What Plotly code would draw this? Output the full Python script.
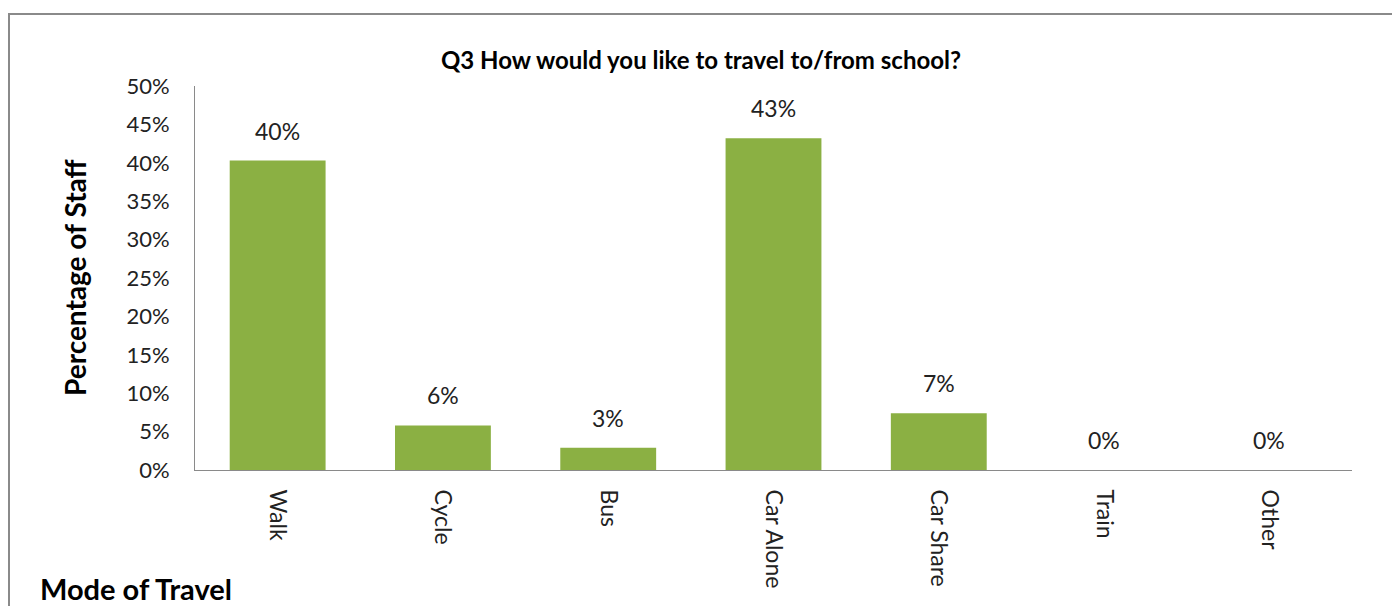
import plotly.graph_objects as go

categories = ["Walk", "Cycle", "Bus", "Car Alone", "Car Share", "Train", "Other"]
values = [0.403, 0.058, 0.029, 0.432, 0.074, 0.0, 0.0]
y_ticks = [0, 0.05, 0.10, 0.15, 0.20, 0.25, 0.30, 0.35, 0.40, 0.45, 0.50]

FONT = "Lato"
W, H = 1392, 606
L, R, T, B = 195, 40, 86, 136
pw, ph = W - L - R, H - T - B

fig = go.Figure()
fig.add_trace(go.Bar(
    x=categories, y=values,
    marker=dict(color="#8BB043", line=dict(width=0)),
    hoverinfo="x+y",
))

for c, v in zip(categories, values):
    fig.add_annotation(x=c, y=v, text=f"{v*100:.0f}%", showarrow=False,
                       yanchor="bottom", yshift=14,
                       font=dict(family=FONT, size=23, color="#222"))

def px_x(p):
    return (p - L) / pw

def px_y(p):
    return (H - B - p) / ph

fig.add_annotation(xref="paper", yref="paper", x=px_x(75), y=px_y(278),
                   xanchor="center", yanchor="middle",
                   text="<b>Percentage of Staff</b>", textangle=-90, showarrow=False,
                   font=dict(family=FONT, size=28, color="#000"))
fig.add_annotation(xref="paper", yref="paper", x=px_x(38), y=px_y(588),
                   xanchor="left", yanchor="middle",
                   text="<b>Mode of Travel</b>", showarrow=False,
                   font=dict(family=FONT, size=29, color="#000"))

fig.add_shape(type="rect", xref="paper", yref="paper",
              x0=px_x(9), y0=px_y(700), x1=px_x(1500), y1=px_y(14),
              line=dict(color="#8a8a8a", width=2), fillcolor="rgba(0,0,0,0)")

fig.update_layout(
    width=W, height=H,
    margin=dict(l=L, r=R, t=T, b=B),
    paper_bgcolor="white", plot_bgcolor="white",
    showlegend=False,
    bargap=0.42,
    title=dict(text="<b>Q3 How would you like to travel to/from school?</b>",
               x=701 / W, xanchor="center", y=1 - 61 / H, yanchor="middle",
               xref="container", yref="container",
               font=dict(family=FONT, size=24, color="#000")),
    font=dict(family=FONT, color="#222"),
)
fig.update_yaxes(range=[0, 0.5], tickvals=y_ticks, tickformat=".0%",
                 showgrid=False, zeroline=False, showline=True, linecolor="#8a8a8a",
                 linewidth=1, ticks="", ticklabelstandoff=20,
                 tickfont=dict(family=FONT, size=22, color="#222"))
fig.update_xaxes(showgrid=False, showline=True, linecolor="#8a8a8a", linewidth=1,
                 ticks="", tickangle=90, ticklabelstandoff=14,
                 tickfont=dict(family=FONT, size=23, color="#222"))

fig.write_html("out.html")
